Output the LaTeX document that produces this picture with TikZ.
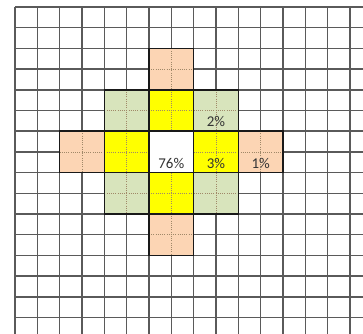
\documentclass[tikz,border=0pt]{standalone}
\usepackage{fontspec}
\setmainfont{Carlito}
\usepackage{xcolor}
\usetikzlibrary{calc}

\definecolor{celgreen}{HTML}{D8E4BC}
\definecolor{celorange}{HTML}{FCD5B4}
\definecolor{celyellow}{HTML}{FFFF00}
\definecolor{gridgray}{HTML}{5A5A5A}
\definecolor{dotbrown}{HTML}{A08868}

\tikzset{
  gridline/.style={draw=gridgray, line width=1.5bp},
  bigcell/.style={draw=black!90, line width=1.6bp},
  innerdot/.style={draw=dotbrown, line width=0.7bp, dash pattern=on 1bp off 1.2bp},
  pct/.style={font=\fontsize{15}{17}\selectfont, text=black!80, inner sep=0pt}
}

% one coloured 2x2 block: {col}{row}{colour}
\newcommand{\blockcell}[3]{%
  \fill[#3] (#1,#2) rectangle ++(2,2);
  \draw[innerdot] (#1+1,#2) -- ++(0,2);
  \draw[innerdot] (#1,#2+1) -- ++(2,0);
}

\begin{document}
\begin{tikzpicture}[x=22.33bp, y=-20.7bp]
\useasboundingbox (-15bp,7bp) rectangle (348bp,-327bp);
\fill[white] (-15bp,7bp) rectangle (348bp,-327bp);

% background grid
\begin{scope}
\clip (-15bp,7bp) rectangle (348bp,-327bp);
\foreach \i in {0,...,15} {
  \draw[gridline] (\i,0) -- (\i,16);
  \draw[gridline] (0,\i) -- (16,\i);
}
\end{scope}

% coloured blocks
\blockcell{6}{2}{celorange}
\blockcell{6}{10}{celorange}
\blockcell{2}{6}{celorange}
\blockcell{10}{6}{celorange}
\blockcell{4}{4}{celgreen}
\blockcell{8}{4}{celgreen}
\blockcell{4}{8}{celgreen}
\blockcell{8}{8}{celgreen}
\blockcell{6}{4}{celyellow}
\blockcell{6}{8}{celyellow}
\blockcell{4}{6}{celyellow}
\blockcell{8}{6}{celyellow}
\fill[white] (6,6) rectangle ++(2,2);

% block outlines
\foreach \c/\r in {6/2,6/10,2/6,10/6,4/4,8/4,4/8,8/8,6/4,6/8,4/6,8/6,6/6}
  \draw[bigcell] (\c,\r) rectangle ++(2,2);

% labels
\node[pct] (centre) at (7,7.55) {76\%};
\node[pct] (near) at (9,7.55) {3\%};
\node[pct] (far) at (11,7.55) {1\%};
\node[pct] (diag) at (9,5.55) {2\%};
\end{tikzpicture}
\end{document}
